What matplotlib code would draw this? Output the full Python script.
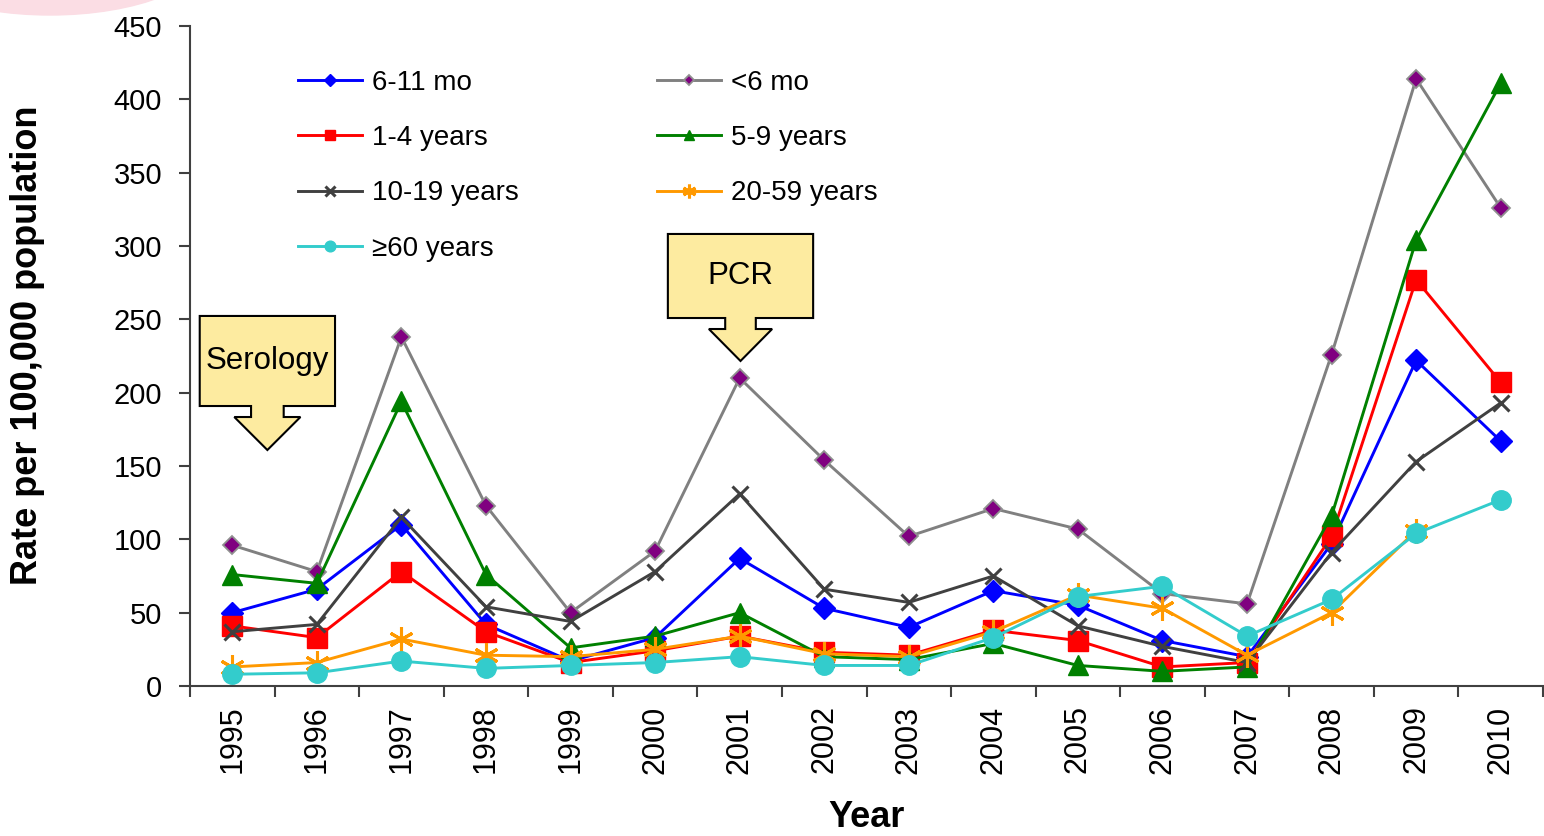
import numpy as np
import matplotlib
matplotlib.use("Agg")
import matplotlib.pyplot as plt
from matplotlib.patches import Polygon, Ellipse

plt.rcParams['font.family'] = ['Liberation Sans', 'DejaVu Sans']

years = [str(y) for y in range(1995, 2011)]

lt6mo = [96, 78, 238, 123, 50, 92, 210, 154, 102, 121, 107, 63, 56, 226, 414, 326]
mo6_11 = [50, 66, 110, 42, 17, 33, 87, 53, 40, 65, 55, 31, 20, 97, 222, 167]
y1_4 = [41, 33, 78, 37, 16, 24, 34, 23, 21, 38, 31, 13, 16, 102, 277, 207]
y5_9 = [76, 70, 194, 76, 26, 34, 50, 20, 18, 29, 14, 10, 13, 116, 304, 411]
y10_19 = [37, 42, 115, 54, 44, 78, 131, 66, 57, 75, 41, 27, 16, 91, 153, 193]
y20_59 = [13, 16, 32, 21, 20, 25, 34, 22, 20, 37, 62, 53, 21, 50, 106, np.nan]
y60plus = [8, 9, 17, 12, 14, 16, 20, 14, 14, 33, 61, 68, 34, 59, 104, 127]

W, H = 1544, 836
fig = plt.figure(figsize=(W / 100, H / 100), dpi=100)
ax = fig.add_axes([190 / W, 1 - 686 / H, 1353 / W, 660 / H])

# faint pink slide decoration in the corner
fig.add_artist(Ellipse((50 / W, 1 + 50 / H), 320 / W, 130 / H,
                       transform=fig.transFigure, color='#fbdde4', zorder=0))

x = np.arange(len(years))
lw = 2.1

# draw order as in the source (later series on top)
l_lt6, = ax.plot(x, lt6mo, color='#808080', lw=lw, marker='D', ms=9,
                 mfc='#800080', mec='#909090', mew=1.3, label='<6 mo')
l_611, = ax.plot(x, mo6_11, color='#0000ff', lw=lw, marker='D', ms=11,
                 mfc='#0000ff', mec='#0000ff', label='6-11 mo')
l_14, = ax.plot(x, y1_4, color='#ff0000', lw=lw, marker='s', ms=14,
                mfc='#ff0000', mec='#ff0000', label='1-4 years')
l_59, = ax.plot(x, y5_9, color='#008000', lw=lw, marker='^', ms=14,
                mfc='#008000', mec='#008000', label='5-9 years')
l_1019, = ax.plot(x, y10_19, color='#404040', lw=lw, marker='x', ms=12,
                  mew=2.2, label='10-19 years')
l_2059, = ax.plot(x, y20_59, color='#ff9900', lw=lw, marker=(6, 2, 0), ms=18,
                  mew=2.2, label='20-59 years')
l_60, = ax.plot(x, y60plus, color='#33cccc', lw=lw, marker='o', ms=14,
                mfc='#33cccc', mec='#33cccc', label='\u226560 years')

ax.set_ylim(0, 450)
ax.set_yticks(np.arange(0, 451, 50))
ax.set_xlim(-0.5, len(years) - 0.5)
ax.set_xticks(np.arange(-0.5, len(years), 1.0))
ax.set_xticklabels([])
ax.set_xticks(x, minor=True)
ax.set_xticklabels(years, minor=True, rotation=90)
ax.tick_params(axis='x', which='minor', length=0, pad=14, labelsize=22)
ax.tick_params(axis='x', which='major', length=8, width=1.5, color='#404040')
ax.tick_params(axis='y', length=8, width=1.5, color='#404040', pad=12, labelsize=21)

for s in ['top', 'right']:
    ax.spines[s].set_visible(False)
for s in ['left', 'bottom']:
    ax.spines[s].set_color('#404040')
    ax.spines[s].set_linewidth(1.5)

ax.set_xlabel('Year', fontsize=26, fontweight='bold', labelpad=19)
ax.set_ylabel('Rate per 100,000 population', fontsize=26, fontweight='bold')
ax.yaxis.set_label_coords(-0.107, 0.517)

handles = [l_611, l_14, l_1019, l_60, l_lt6, l_59, l_2059]
ax.legend(handles=handles, labels=[h.get_label() for h in handles], ncol=2,
          frameon=False, fontsize=20, loc='upper left',
          bbox_to_anchor=(298 / W, 1 - 70 / H), bbox_transform=fig.transFigure,
          borderpad=0, borderaxespad=0, handlelength=2.3, handletextpad=0.35,
          columnspacing=5.0, labelspacing=1.05, markerscale=0.55)


def callout(cx, top, bottom, half_w, neck_bot, tip, neck_w, head_w, text):
    verts = [(cx - half_w, top), (cx + half_w, top), (cx + half_w, bottom),
             (cx + neck_w, bottom), (cx + neck_w, neck_bot), (cx + head_w, neck_bot),
             (cx, tip), (cx - head_w, neck_bot), (cx - neck_w, neck_bot),
             (cx - neck_w, bottom), (cx - half_w, bottom)]
    ax.add_patch(Polygon(verts, closed=True, facecolor='#fdeba0', edgecolor='black',
                         lw=1.5, clip_on=False, zorder=5))
    ax.text(cx, (top + bottom) / 2, text, ha='center', va='center',
            fontsize=22.5, zorder=6)


callout(0.415, 252.3, 190.9, 0.80, 183.4, 160.9, 0.193, 0.391, 'Serology')
callout(6.01, 308.2, 250.9, 0.859, 243.4, 221.6, 0.181, 0.374, 'PCR')

fig.savefig('out.png', dpi=100)
